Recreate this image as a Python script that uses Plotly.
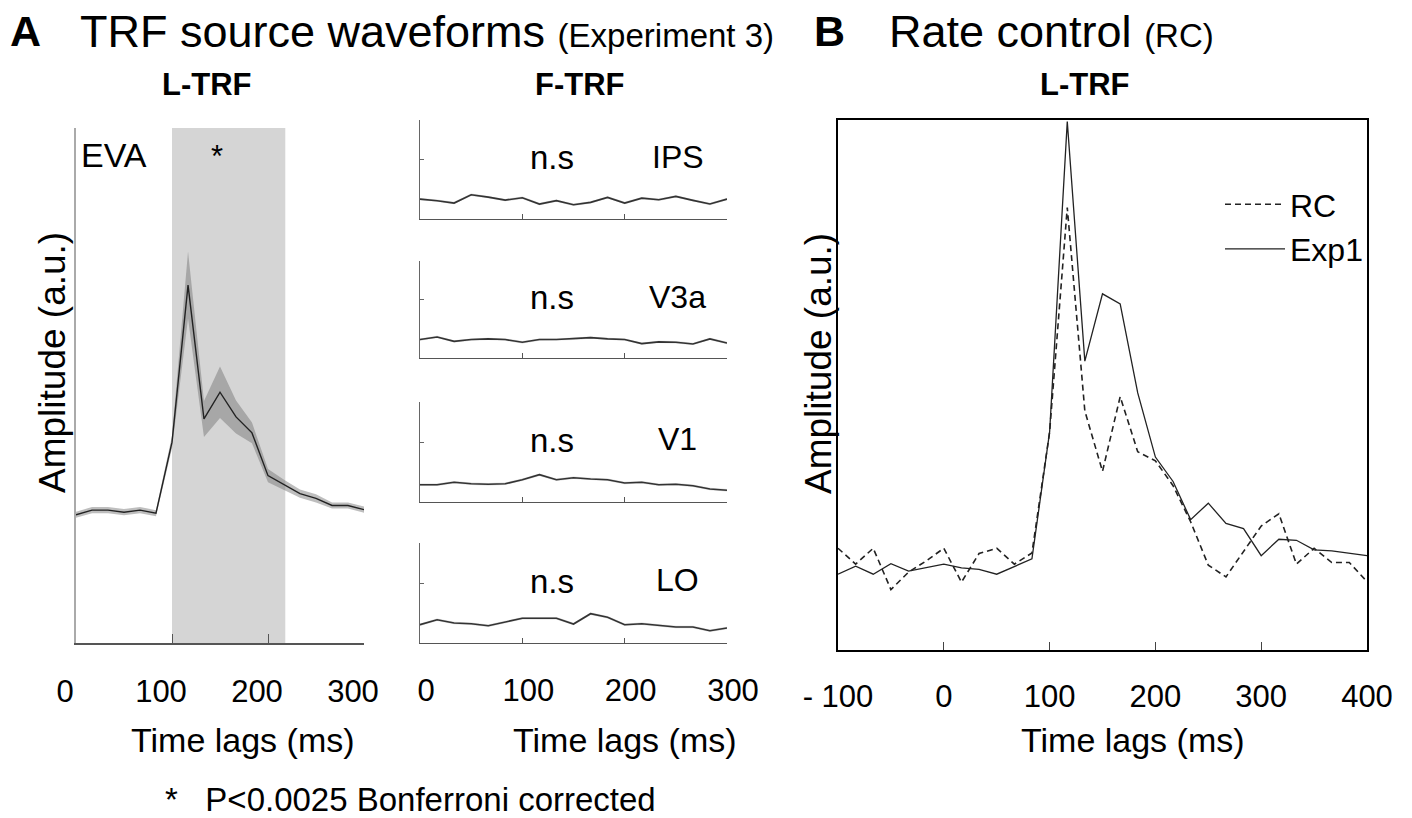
import plotly.graph_objects as go

W, H = 1412, 818
FONT = "Liberation Sans, Arial, sans-serif"

# ---------------- data ----------------
lags_A = [0, 16.7, 33.3, 50, 66.7, 83.3, 100, 116.7, 133.3, 150, 166.7,
          183.3, 200, 216.7, 233.3, 250, 266.7, 283.3, 300]
tick_vals_A = [0, 100, 200, 300]
tick_text_A = ["0", "100", "200", "300"]

eva_mean = [0.249, 0.258, 0.258, 0.254, 0.258, 0.252, 0.39, 0.695, 0.435, 0.487,
            0.439, 0.408, 0.325, 0.307, 0.29, 0.281, 0.267, 0.267, 0.259]
eva_err = [0.006, 0.006, 0.006, 0.006, 0.006, 0.006, 0.012, 0.065, 0.035, 0.05,
           0.032, 0.02, 0.013, 0.01, 0.008, 0.008, 0.006, 0.006, 0.006]
sig_window = [100, 218]
star_lag = 147

ips = [0.201, 0.185, 0.161, 0.245, 0.221, 0.191, 0.215, 0.151, 0.185, 0.144,
       0.168, 0.218, 0.161, 0.211, 0.195, 0.228, 0.188, 0.151, 0.201]
v3a = [0.19, 0.217, 0.172, 0.19, 0.197, 0.19, 0.162, 0.19, 0.19, 0.197,
       0.21, 0.197, 0.19, 0.148, 0.166, 0.162, 0.145, 0.197, 0.155]
v1 = [0.173, 0.173, 0.197, 0.183, 0.177, 0.183, 0.223, 0.273, 0.223, 0.243,
      0.23, 0.223, 0.19, 0.197, 0.173, 0.177, 0.163, 0.13, 0.117]
lo = [0.183, 0.233, 0.2, 0.193, 0.173, 0.21, 0.247, 0.247, 0.247, 0.19,
      0.293, 0.257, 0.183, 0.193, 0.173, 0.16, 0.16, 0.123, 0.15]
ftrf_err = 0.012
ftrf_names = ["IPS", "V3a", "V1", "LO"]
ftrf_series = [ips, v3a, v1, lo]

lags_B = [-100, -83.3, -66.7, -50, -33.3, -16.7, 0, 16.7, 33.3, 50, 66.7, 83.3,
          100, 116.7, 133.3, 150, 166.7, 183.3, 200, 216.7, 233.3, 250, 266.7,
          283.3, 300, 316.7, 333.3, 350, 366.7, 383.3, 400]
tick_vals_B = [-100, 0, 100, 200, 300, 400]
tick_text_B = ["- 100", "0", "100", "200", "300", "400"]
exp1 = [0.143, 0.158, 0.143, 0.163, 0.149, 0.156, 0.162, 0.155, 0.152, 0.143,
        0.158, 0.172, 0.411, 0.997, 0.545, 0.672, 0.653, 0.485, 0.364, 0.318,
        0.246, 0.277, 0.239, 0.229, 0.178, 0.209, 0.207, 0.189, 0.187, 0.182, 0.178]
rc = [0.192, 0.162, 0.192, 0.114, 0.147, 0.168, 0.192, 0.128, 0.182, 0.192,
      0.162, 0.183, 0.411, 0.835, 0.451, 0.337, 0.478, 0.374, 0.357, 0.310,
      0.242, 0.160, 0.138, 0.185, 0.234, 0.257, 0.162, 0.192, 0.165, 0.165, 0.129]


def px_x(p):
    return p / W


def px_y(p):
    return 1 - p / H


fig = go.Figure()


def band(xs, mean, err, xa, ya, color):
    up = [m + e for m, e in zip(mean, err)]
    lo_ = [m - e for m, e in zip(mean, err)]
    fig.add_trace(go.Scatter(x=xs + xs[::-1], y=up + lo_[::-1], fill="toself",
                             fillcolor=color, line=dict(width=0), mode="lines",
                             hoverinfo="skip", showlegend=False, xaxis=xa, yaxis=ya))


# EVA panel (x, y)
band(lags_A, eva_mean, eva_err, "x", "y", "rgba(110,110,110,0.45)")
fig.add_trace(go.Scatter(x=lags_A, y=eva_mean, mode="lines",
                         line=dict(color="#222", width=1.4), showlegend=False,
                         xaxis="x", yaxis="y"))

# F-TRF panels (x2..x5)
for i, s in enumerate(ftrf_series):
    k = str(i + 2)
    band(lags_A, s, [ftrf_err] * len(s), "x" + k, "y" + k, "rgba(150,150,150,0.35)")
    fig.add_trace(go.Scatter(x=lags_A, y=s, mode="lines",
                             line=dict(color="#333", width=1.6), showlegend=False,
                             xaxis="x" + k, yaxis="y" + k))

# Panel B (x6, y6)
fig.add_trace(go.Scatter(x=lags_B, y=rc, mode="lines", name="RC",
                         line=dict(color="#222", width=1.6, dash="6px,4px"),
                         xaxis="x6", yaxis="y6"))
fig.add_trace(go.Scatter(x=lags_B, y=exp1, mode="lines", name="Exp1",
                         line=dict(color="#222", width=1.3),
                         xaxis="x6", yaxis="y6"))

tickfont = dict(family=FONT, size=31, color="black")

layout = dict(
    width=W, height=H, margin=dict(l=0, r=0, t=0, b=0, pad=0, autoexpand=False),
    autosize=False,
    paper_bgcolor="white", plot_bgcolor="rgba(0,0,0,0)",
    font=dict(family=FONT, color="black"),
    showlegend=True,
    legend=dict(x=px_x(1220), y=px_y(177), xanchor="left", yanchor="top",
                font=dict(family=FONT, size=32, color="black"),
                bgcolor="rgba(0,0,0,0)", itemwidth=60, tracegroupgap=0),
)

# EVA axes
layout["xaxis"] = dict(domain=[px_x(76), px_x(364)], range=[0, 300], anchor="y",
                       automargin=False,
                       showline=True, linecolor="#555", linewidth=1.5,
                       ticks="inside", tickvals=tick_vals_A, ticktext=tick_text_A,
                       ticklen=9, tickcolor="#555", tickfont=tickfont,
                       ticklabelstandoff=20, ticklabelshift=-11,
                       showgrid=False, zeroline=False)
layout["yaxis"] = dict(domain=[px_y(643), px_y(128)], range=[0, 1], anchor="x",
                       automargin=False,
                       showline=True, linecolor="#aaa", linewidth=1.5,
                       ticks="inside", tickvals=[1], ticklen=4, tickcolor="#aaa",
                       showticklabels=False, showgrid=False, zeroline=False)

ftrf_rows = [(120, 219), (261, 358), (402, 502), (543, 643)]
for i, (top, bot) in enumerate(ftrf_rows):
    k = str(i + 2)
    last = i == 3
    layout["xaxis" + k] = dict(domain=[px_x(420), px_x(727)], range=[0, 300],
                               anchor="y" + k, automargin=False,
                               showline=True, linecolor="#555", linewidth=1.3,
                               ticks="inside", tickvals=tick_vals_A, ticktext=tick_text_A,
                               ticklen=5, tickcolor="#555", showticklabels=last,
                               tickfont=tickfont, ticklabelstandoff=20, ticklabelshift=6,
                               showgrid=False, zeroline=False)
    layout["yaxis" + k] = dict(domain=[px_y(bot), px_y(top)], range=[0, 1],
                               anchor="x" + k, automargin=False,
                               showline=True, linecolor="#666",
                               linewidth=1.2, ticks="inside", tickvals=[0.6, 1],
                               ticklen=4, tickcolor="#666", showticklabels=False,
                               showgrid=False, zeroline=False)

# Panel B axes
layout["xaxis6"] = dict(domain=[px_x(838), px_x(1367)], range=[-100, 400], anchor="y6",
                        automargin=False,
                        showline=True, mirror=True, linecolor="black", linewidth=2.2,
                        ticks="inside", tickvals=tick_vals_B, ticktext=tick_text_B,
                        ticklen=8, tickcolor="#444", tickfont=tickfont,
                        ticklabelstandoff=18,
                        showgrid=False, zeroline=False)
layout["yaxis6"] = dict(domain=[px_y(650), px_y(120)], range=[0, 1], anchor="x6",
                        automargin=False,
                        showline=True, mirror=True, linecolor="black", linewidth=2.2,
                        ticks="", showticklabels=False, showgrid=False, zeroline=False)

fig.update_layout(**layout)

# significance window shading on EVA panel
fig.add_shape(type="rect", xref="x", yref="y domain", x0=sig_window[0], x1=sig_window[1],
              y0=0, y1=1, fillcolor="#d5d5d5", line=dict(width=0), layer="below")


def ann(text, x, y, size, bold=False, xanchor="left", angle=0):
    if bold:
        text = "<b>" + text + "</b>"
    fig.add_annotation(text=text, x=px_x(x), y=px_y(y), xref="paper", yref="paper",
                       showarrow=False, xanchor=xanchor, yanchor="middle",
                       textangle=angle,
                       font=dict(family=FONT, size=size, color="black"))


# panel titles
ann("A", 8, 31, 43, bold=True)
ann("TRF source waveforms <span style='font-size:33px'>(Experiment 3)</span>", 78, 31, 45)
ann("B", 812, 31, 43, bold=True)
ann("Rate control <span style='font-size:33px'>(RC)</span>", 887, 31, 45)

ann("L-TRF", 207, 84, 31, bold=True, xanchor="center")
ann("F-TRF", 580, 84, 31, bold=True, xanchor="center")
ann("L-TRF", 1085, 84, 31, bold=True, xanchor="center")

# axis titles (placed where the reference has them)
ann("Time lags (ms)", 243, 740, 34, xanchor="center")
ann("Time lags (ms)", 625, 740, 34, xanchor="center")
ann("Time lags (ms)", 1133, 740, 34, xanchor="center")
ann("Amplitude (a.u.)", 52, 363, 37, xanchor="center", angle=-90)
ann("Amplitude (a.u.)", 818, 363, 37, xanchor="center", angle=-90)

# EVA labels
fig.add_annotation(text="EVA", x=0.01, y=0.948, xref="x domain", yref="y domain",
                   showarrow=False, xanchor="left", yanchor="middle",
                   font=dict(family=FONT, size=34, color="black"))
fig.add_annotation(text="*", x=star_lag, y=0.945, xref="x", yref="y domain",
                   showarrow=False, xanchor="center", yanchor="middle",
                   font=dict(family=FONT, size=31, color="black"))

# F-TRF labels
for i, name in enumerate(ftrf_names):
    k = str(i + 2)
    fig.add_annotation(text="n.s", x=0.43, y=0.62, xref="x%s domain" % k,
                       yref="y%s domain" % k, showarrow=False, xanchor="center",
                       yanchor="middle", font=dict(family=FONT, size=33, color="black"))
    fig.add_annotation(text=name, x=0.84, y=0.63, xref="x%s domain" % k,
                       yref="y%s domain" % k, showarrow=False, xanchor="center",
                       yanchor="middle", font=dict(family=FONT, size=32, color="black"))

# footnote
ann("*&nbsp;&nbsp;&nbsp;P&lt;0.0025 Bonferroni corrected", 163, 799, 33)

fig.write_html("out.html", config={"responsive": False, "displayModeBar": False},
               post_script="document.body.style.margin='0';document.body.style.padding='0';")
